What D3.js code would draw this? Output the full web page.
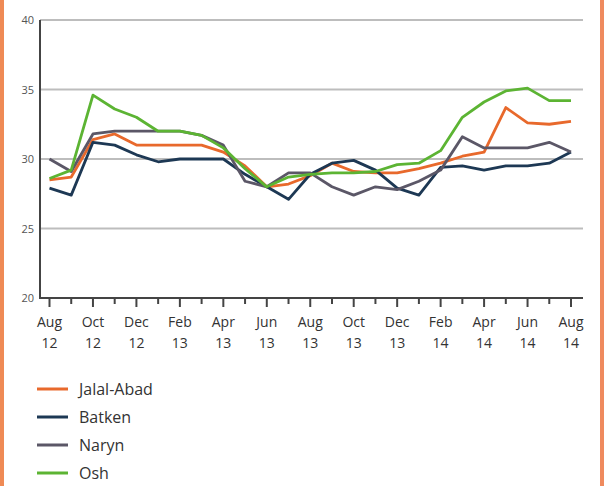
<!DOCTYPE html>
<html>
<head>
<meta charset="utf-8">
<script src="https://cdn.jsdelivr.net/npm/d3@7"></script>
<style>
  html, body { margin: 0; padding: 0; background: #fff; }
  svg { display: block; }
</style>
</head>
<body>
<svg id="chart" width="604" height="486"></svg>
<script>
const months = ["Aug 12","Sep 12","Oct 12","Nov 12","Dec 12","Jan 13","Feb 13","Mar 13","Apr 13","May 13","Jun 13","Jul 13",
                "Aug 13","Sep 13","Oct 13","Nov 13","Dec 13","Jan 14","Feb 14","Mar 14","Apr 14","May 14","Jun 14","Jul 14","Aug 14"];
const seriesNames = ["Jalal-Abad","Batken","Naryn","Osh"];
const jalalAbad = [28.5,28.7,31.4,31.8,31.0,31.0,31.0,31.0,30.5,29.5,28.0,28.2,28.8,29.7,29.1,29.0,29.0,29.3,29.7,30.2,30.5,33.7,32.6,32.5,32.7];
const batken    = [27.9,27.4,31.2,31.0,30.3,29.8,30.0,30.0,30.0,28.9,28.0,27.1,28.9,29.7,29.9,29.2,27.9,27.4,29.4,29.5,29.2,29.5,29.5,29.7,30.5];
const naryn     = [30.0,29.1,31.8,32.0,32.0,32.0,32.0,31.7,31.0,28.4,28.0,29.0,29.0,28.0,27.4,28.0,27.8,28.4,29.2,31.6,30.8,30.8,30.8,31.2,30.5];
const osh       = [28.6,29.2,34.6,33.6,33.0,32.0,32.0,31.7,30.8,29.3,28.0,28.7,28.9,29.0,29.0,29.1,29.6,29.7,30.6,33.0,34.1,34.9,35.1,34.2,34.2];
const yTicks = [20,25,30,35,40];
const colors = ["#E8692C","#1D3854","#5B5767","#5CB433"];

const svg = d3.select("#chart");
const x = d3.scalePoint().domain(months).range([49.5, 571]);
const y = d3.scaleLinear().domain([20,40]).range([298, 20]);
const axisLeft = 40, gridRight = 583;

// orange side borders
svg.append("rect").attr("x",0).attr("y",0).attr("width",4).attr("height",486).attr("fill","#EF8A55");
svg.append("rect").attr("x",600).attr("y",0).attr("width",4).attr("height",486).attr("fill","#EF8A5E");

// gridlines
svg.append("g").selectAll("line").data(yTicks.filter(d=>d>20)).join("line")
  .attr("x1",axisLeft).attr("x2",gridRight)
  .attr("y1",d=>y(d)).attr("y2",d=>y(d))
  .attr("stroke","#BDBDBD").attr("stroke-width",2);

// y tick labels
svg.append("g").selectAll("text").data(yTicks).join("text")
  .attr("x",34).attr("y",d=>y(d)+4)
  .attr("text-anchor","end")
  .attr("font-family","'Open Sans', sans-serif").attr("font-size",11)
  .attr("fill","#555").text(d=>d);

// lines
const line = d3.line().x((d,i)=>x(months[i])).y(d=>y(d));
const allSeries = [jalalAbad, batken, naryn, osh];
svg.append("g").selectAll("path").data(allSeries).join("path")
  .attr("d",line).attr("fill","none")
  .attr("stroke",(d,i)=>colors[i]).attr("stroke-width",2.8)
  .attr("stroke-linejoin","round");

// axes
svg.append("line").attr("x1",axisLeft).attr("x2",axisLeft).attr("y1",y(40)).attr("y2",y(20)+1)
  .attr("stroke","#444").attr("stroke-width",2);
svg.append("line").attr("x1",axisLeft).attr("x2",gridRight).attr("y1",y(20)).attr("y2",y(20))
  .attr("stroke","#444").attr("stroke-width",2);

// ticks
svg.append("g").selectAll("line").data(months).join("line")
  .attr("x1",d=>x(d)).attr("x2",d=>x(d))
  .attr("y1",y(20)).attr("y2",(d,i)=> i%2===0 ? y(20)+9 : y(20)+6)
  .attr("stroke","#444").attr("stroke-width",2);

// x labels
const lab = svg.append("g").selectAll("text").data(months.filter((d,i)=>i%2===0)).join("text")
  .attr("text-anchor","middle")
  .attr("font-family","'Open Sans', sans-serif").attr("font-size",14)
  .attr("fill","#333");
lab.append("tspan").attr("x",d=>x(d)).attr("y",327).text(d=>d.split(" ")[0]);
lab.append("tspan").attr("x",d=>x(d)).attr("y",348).text(d=>d.split(" ")[1]);

// legend
const leg = svg.append("g").selectAll("g").data(seriesNames).join("g")
  .attr("transform",(d,i)=>`translate(0,${389 + i*28})`);
leg.append("line").attr("x1",37).attr("x2",68).attr("y1",0).attr("y2",0)
  .attr("stroke",(d,i)=>colors[i]).attr("stroke-width",3);
leg.append("text").attr("x",79).attr("y",6)
  .attr("font-family","'Open Sans', sans-serif").attr("font-size",16)
  .attr("fill","#333").text(d=>d);
</script>
</body>
</html>
